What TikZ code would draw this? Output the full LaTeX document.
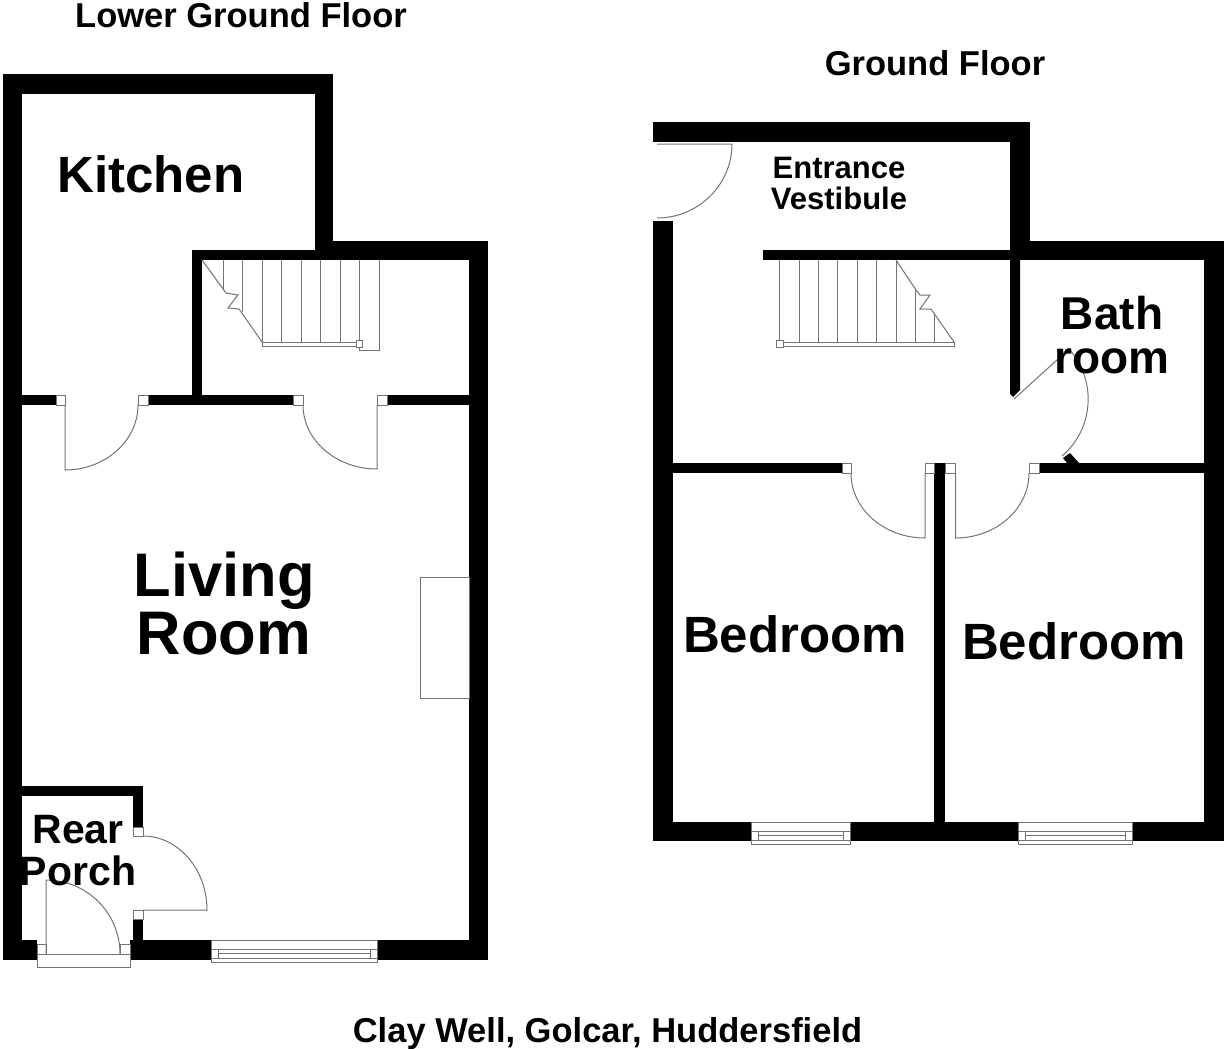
\documentclass[tikz,border=0pt]{standalone}
\usepackage{fontspec}
\setmainfont{Liberation Sans}
\begin{document}
\begin{tikzpicture}[x=1pt, y=-1pt,
        wall/.style={fill=black, draw=none},
        planline/.style={draw=black!55, line width=1pt},
        title/.style={font=\bfseries\fontsize{34.5}{38}\selectfont, align=center},
        smalllabel/.style={font=\bfseries\fontsize{31}{31}\selectfont, align=center},
        porchlabel/.style={font=\bfseries\fontsize{41}{42}\selectfont, align=center},
        bathlabel/.style={font=\bfseries\fontsize{46}{44}\selectfont, align=center},
        roomlabel/.style={font=\bfseries\fontsize{51}{50}\selectfont, align=center},
        biglabel/.style={font=\bfseries\fontsize{61.5}{58}\selectfont, align=center}]

        \useasboundingbox (0,0) rectangle (1231,1049);

        % Lower ground floor walls
        \foreach \xa/\ya/\xb/\yb in {3/74/22/960, 3/74/333/94, 315/74/333/260, 315/241/488/260, 469/241/488/960,
            3/940/37/960, 130/940/211/960, 377/940/488/960, 22/786/143/796, 133/786/143/827, 133/919/143/940,
            192/250/315/260, 192/250/202/396, 22/395/56/405, 148/395/293/405, 387/395/469/405}
            \fill[wall] (\xa,\ya) rectangle (\xb,\yb);

        % Ground floor walls
        \foreach \xa/\ya/\xb/\yb in {653/122/1030/142, 1010/122/1030/260, 653/221/673/841, 1010/241/1224/260,
            1204/241/1224/841, 653/822/751/841, 850/822/1018/841, 1132/822/1224/841, 763/250/1010/260,
            673/463/842/473, 934/463/945/822, 1039/463/1204/473}
            \fill[wall] (\xa,\ya) rectangle (\xb,\yb);
        \fill[wall] (1010,260) -- (1020,260) -- (1020,390) -- (1013,397) -- (1010,394) -- cycle;
        \fill[wall] (1063,458) -- (1070,453) -- (1079,463) -- (1067,463) -- cycle;

        % Door jambs
        \foreach \xa/\ya/\xb/\yb in {56/395/65/405, 138/395/148/405, 293/395/303/405, 377/395/387/405,
            133/827/143/836, 133/910/143/919, 37/944/46/954, 120/944/130/954,
            842/463/851/473, 925/463/934/473, 945/463/955.5/473, 1029/463/1039/473}
            \draw[planline] (\xa,\ya) rectangle (\xb,\yb);

        % Doors, lower ground floor
        \draw[planline] (65,405) -- (65,470) .. controls (105,470) and (138,441) .. (138,405);
        \draw[planline] (377,405) -- (377,469) .. controls (336,469) and (303,440) .. (303,405);
        \draw[planline] (143,836) .. controls (178,836) and (207,869) .. (207,910) -- (143,910);
        \draw[planline] (46,954) -- (46,880) .. controls (87,880) and (120,913) .. (120,954);
        \draw[planline] (37,954) rectangle (130,967);

        % Doors, ground floor
        \draw[planline] (657,144) -- (732,144) .. controls (732,185) and (698,218) .. (657,218);
        \draw[planline] (851,473) .. controls (851,509) and (884,538) .. (925,538) -- (925,473);
        \draw[planline] (955.5,473) -- (955.5,538) .. controls (996,538) and (1029,509) .. (1029,473);
        \draw[planline] (1014,399) -- (1069,349) .. controls (1097,380) and (1094,429) .. (1062,456);

        % Stairs, lower ground floor
        \draw[planline] (202,260) -- (226,293) -- (238,295) -- (228,308) -- (239,309) -- (262,342);
        \draw[planline] (223,260) -- (223,290);
        \draw[planline] (242,260) -- (242,312);
        \foreach \xa in {262,281,301,320,340}
            \draw[planline] (\xa,260) -- (\xa,342);
        \draw[planline] (262,342) rectangle (356,346);
        \draw[planline] (356,340) rectangle (362.5,347);
        \draw[planline] (359,260) -- (359,340);
        \draw[planline] (359,347) -- (359,350) -- (379,350) -- (379,260);

        % Stairs, ground floor
        \draw[planline] (896,260) -- (916,290) -- (920,295) -- (930,295) -- (920,309) -- (931,309) -- (954,342);
        \foreach \xa in {779,799,818,837,857,876,896}
            \draw[planline] (\xa,260) -- (\xa,342);
        \draw[planline] (915,289) -- (915,342);
        \draw[planline] (934,315) -- (934,342);
        \draw[planline] (779,342) rectangle (954,346);
        \draw[planline, fill=white] (776,340) rectangle (783,347);

        % Windows
        \foreach \xa/\xb/\ya in {211/377/940, 751/850/822, 1018/1132/822} {
            \draw[planline] (\xa,\ya) rectangle (\xb,\ya+22);
            \draw[planline] (\xa,\ya+9) -- (\xb,\ya+9);
            \draw[planline] (\xa,\ya+18) -- (\xb,\ya+18);
            \draw[planline] (\xa+7,\ya+9) rectangle (\xb-7,\ya+18);
            \draw[planline] (\xa+7,\ya+13) -- (\xb-7,\ya+13);
        }

        % Fireplace
        \draw[planline] (420,577) rectangle (469,698);

        % Labels
        \node[title] (lowertitle) at (241,15) {Lower Ground Floor};
        \node[title] (groundtitle) at (935,63) {Ground Floor};
        \node[title] (address) at (607.5,1034) {Clay Well, Golcar, Huddersfield};
        \node[roomlabel] (kitchen) at (151,174) {Kitchen};
        \node[biglabel] (living) at (224,604) {Living\\Room};
        \node[porchlabel] (porch) at (78,851) {Rear\\Porch};
        \node[smalllabel] (vestibule) at (839,183) {Entrance\\Vestibule};
        \node[bathlabel] (bath) at (1112,335) {Bath\\room};
        \node[roomlabel] (bedroomleft) at (795,634) {Bedroom};
        \node[roomlabel] (bedroomright) at (1074,641) {Bedroom};

\end{tikzpicture}
\end{document}
